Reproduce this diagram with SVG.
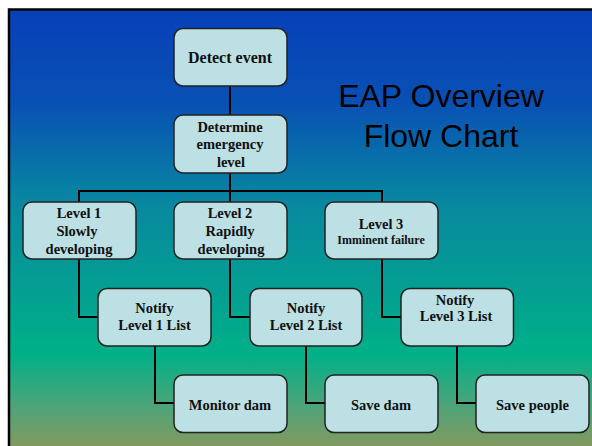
<svg xmlns="http://www.w3.org/2000/svg" width="592" height="446" viewBox="0 0 592 446">
<defs>
<linearGradient id="bg" x1="0" y1="0" x2="0" y2="1">
<stop offset="0" stop-color="#0840B8"/>
<stop offset="0.2" stop-color="#0850B4"/>
<stop offset="0.42" stop-color="#0888A0"/>
<stop offset="0.75" stop-color="#00B088"/>
<stop offset="0.86" stop-color="#4CA47A"/>
<stop offset="1" stop-color="#A09450"/>
</linearGradient>
<style>
.box{fill:#BCE0E3;stroke:#222;stroke-width:1.5}
.t{font-family:"Liberation Serif","Times New Roman",serif;font-weight:bold;font-size:14.5px;fill:#111;text-anchor:middle}
.s{font-size:12px}
.title{font-family:"Liberation Sans",Arial,sans-serif;font-size:32px;fill:#000;text-anchor:middle}
.c{fill:none;stroke:#000;stroke-width:2}
</style>
</defs>
<rect x="0" y="0" width="592" height="446" fill="#fff"/>
<rect x="9" y="9.5" width="600" height="460" fill="url(#bg)" stroke="#000" stroke-width="2.5"/>
<text class="title" x="441" y="107">EAP Overview</text>
<text class="title" x="441" y="147">Flow Chart</text>
<g id="connectors">
<path class="c" d="M230 86V115M230 173V191M79 202V191H382V202M230 191V202"/>
<path class="c" d="M79 259V317H98M230 259V317H250M382 259V317H401"/>
<path class="c" d="M155 346V403H174M306 346V403H325M457 346V403H476"/>
</g>
<g id="detect"><rect class="box" x="174" y="28.5" width="113" height="57.5" rx="9"/><text class="t" x="230" y="63" style="font-size:16px">Detect event</text></g>
<g id="determine"><rect class="box" x="174" y="115" width="113" height="58" rx="9"/><text class="t" x="230" y="131.5">Determine</text><text class="t" x="230" y="149">emergency</text><text class="t" x="231" y="166.5">level</text></g>
<g id="level1"><rect class="box" x="23" y="202" width="113" height="57" rx="9"/><text class="t" x="79" y="218">Level 1</text><text class="t" x="77" y="236">Slowly</text><text class="t" x="79" y="253.5">developing</text></g>
<g id="level2"><rect class="box" x="174" y="202" width="113" height="57" rx="9"/><text class="t" x="230" y="218">Level 2</text><text class="t" x="230" y="236">Rapidly</text><text class="t" x="231" y="253.5">developing</text></g>
<g id="level3"><rect class="box" x="325" y="202" width="113" height="57" rx="9"/><text class="t" x="381" y="228.5">Level 3</text><text class="t s" x="381" y="244">Imminent failure</text></g>
<g id="notify1"><rect class="box" x="98" y="288.5" width="113" height="57.5" rx="9"/><text class="t" x="154.5" y="313">Notify</text><text class="t" x="154.5" y="330">Level 1 List</text></g>
<g id="notify2"><rect class="box" x="250" y="288.5" width="112" height="57.5" rx="9"/><text class="t" x="306" y="313">Notify</text><text class="t" x="306" y="330">Level 2 List</text></g>
<g id="notify3"><rect class="box" x="401" y="288.5" width="112.5" height="57.5" rx="9"/><text class="t" x="455" y="304.5">Notify</text><text class="t" x="456" y="321">Level 3 List</text></g>
<g id="monitor"><rect class="box" x="174" y="375" width="113" height="57.5" rx="9"/><text class="t" x="230" y="409.5">Monitor dam</text></g>
<g id="savedam"><rect class="box" x="325" y="375" width="113" height="57.5" rx="9"/><text class="t" x="381" y="409.5">Save dam</text></g>
<g id="savepeople"><rect class="box" x="476" y="375" width="113" height="57.5" rx="9"/><text class="t" x="532.5" y="409.5">Save people</text></g>
</svg>
